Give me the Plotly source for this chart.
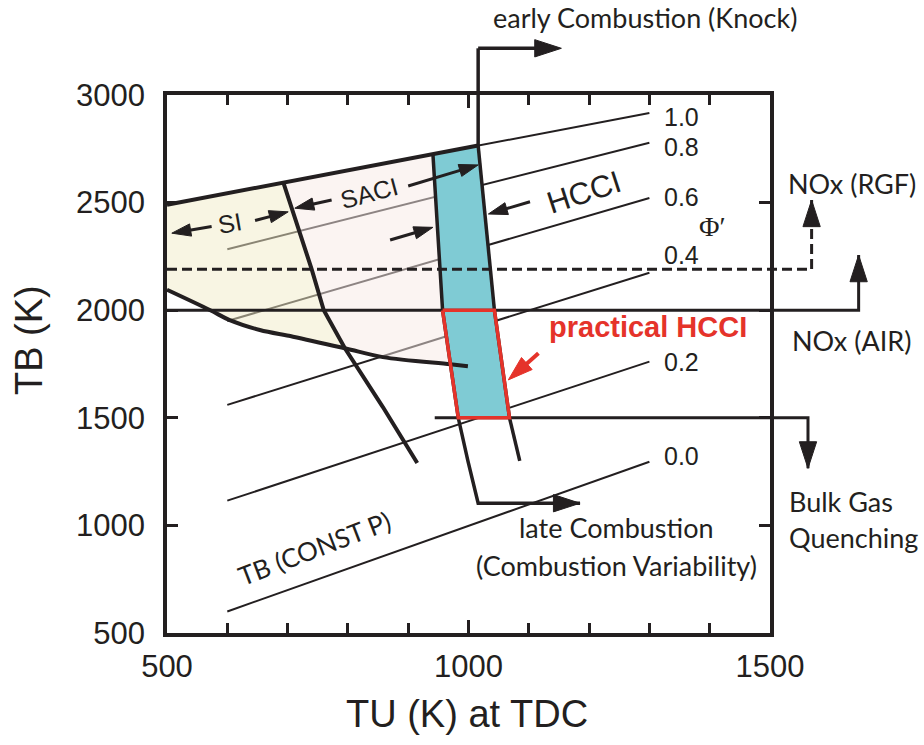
import plotly.graph_objects as go

# ---------------- data (TU in K at TDC, TB in K) ----------------
TU_RANGE = [500, 1500]
TB_RANGE = [500, 3000]

# Constant-pressure burned-gas temperature lines, one per Phi'
phi_labels = ["0.0", "0.2", "0.4", "0.6", "0.8", "1.0"]
phi_tu_start = [600, 600, 600, 600, 600, 500]
phi_tb_start = [600, 1115, 1560, 1950, 2283, 2490]
phi_tu_end = [1300, 1300, 1300, 1300, 1300, 1300]
phi_tb_end = [1296, 1761, 2174, 2521, 2778, 2916]

# Upper limit of the combustion regimes (along Phi' = 1.0)
top_tu = [500, 693, 941, 1016]
top_tb = [2490, 2593, 2725, 2765]

# SI / SACI boundary
sisaci_tu = [693, 740, 760, 795, 858, 915]
sisaci_tb = [2593, 2190, 2000, 1823, 1550, 1290]

# Lower limit of flame propagation
low_tu = [500, 571, 604, 654, 709, 795, 858, 970, 999]
low_tb = [2095, 2001, 1954, 1908, 1877, 1823, 1782, 1749, 1740]

# HCCI band, left edge continuing into the late-combustion arrow
hl_tu = [941, 957, 970, 983, 999, 1016, 1185]
hl_tb = [2725, 2000, 1749, 1500, 1300, 1103, 1103]

# HCCI band, right edge continuing into the early-combustion (knock) arrow
hr_tu = [1085, 1068, 1043, 1016, 1016, 1154]
hr_tb = [1300, 1500, 2000, 2765, 3217, 3217]

# Practical HCCI window
box_tu = [957, 1043, 1068, 983, 957]
box_tb = [2000, 2000, 1500, 1500, 2000]

# NOx limits and bulk gas quenching
air_tu = [500, 1647, 1647]
air_tb = [2000, 2000, 2256]
rgf_tu = [500, 1569, 1569]
rgf_tb = [2190, 2190, 2512]
bulk_tu = [944, 1563, 1563]
bulk_tb = [1500, 1500, 1265]

# Regime range arrows (tail -> head)
si_left = ([574, 508], [2389, 2358])
si_right = ([646, 701], [2417, 2457])
saci_left = ([773, 712], [2512, 2474])
saci_right = ([900, 1016], [2577, 2675])
hcci_in = ([870, 941], [2326, 2385])
hcci_out = ([1102, 1033], [2504, 2447])
practical_arrow = ([1116, 1066], [1800, 1676])

# ---------------- styling ----------------
INK = "#231f20"
CYAN = "#7fcbd4"
RED = "#e5332a"
SANS = "Liberation Sans, Arial, sans-serif"
HUMAN = "Lato, Open Sans, sans-serif"

W, H = 924, 745
X_DOM = [167 / W, 770 / W]
Y_DOM = [(H - 633) / H, (H - 95) / H]


def full_range(rng, dom):
    span = (rng[1] - rng[0]) / (dom[1] - dom[0])
    return [rng[0] - dom[0] * span, rng[1] + (1 - dom[1]) * span]


fig = go.Figure()

# Phi' lines live on the framed axes
for i in range(len(phi_labels)):
    fig.add_trace(go.Scatter(x=[phi_tu_start[i], phi_tu_end[i]],
                             y=[phi_tb_start[i], phi_tb_end[i]], mode="lines",
                             line=dict(color=INK, width=2), hoverinfo="skip",
                             showlegend=False))


def add_path(tu, tb, width, color=INK, dash="solid", head=0, fill=None, fillcolor=None,
             shape="linear"):
    kw = dict(x=tu, y=tb, xaxis="x2", yaxis="y2", hoverinfo="skip", showlegend=False,
              line=dict(color=color, width=width, dash=dash, shape=shape))
    if fill:
        kw.update(fill=fill, fillcolor=fillcolor, mode="lines")
    elif head:
        kw.update(mode="lines+markers",
                  marker=dict(symbol="arrow", size=[0] * (len(tu) - 1) + [head],
                              angleref="previous", color=color, opacity=1,
                              line=dict(width=1, color=color)))
    else:
        kw.update(mode="lines")
    fig.add_trace(go.Scatter(**kw))


# Regime fills (semi-transparent so Phi' lines show through as gray)
si_poly_tu = top_tu[:2] + sisaci_tu[1:4] + low_tu[4::-1]
si_poly_tb = top_tb[:2] + sisaci_tb[1:4] + low_tb[4::-1]
add_path(si_poly_tu, si_poly_tb, 0, color="rgba(0,0,0,0)", fill="toself",
         fillcolor="rgba(241,235,199,0.5)")

saci_poly_tu = top_tu[1:3] + hl_tu[1:3] + low_tu[6:4:-1] + sisaci_tu[2::-1]
saci_poly_tb = top_tb[1:3] + hl_tb[1:3] + low_tb[6:4:-1] + sisaci_tb[2::-1]
add_path(saci_poly_tu, saci_poly_tb, 0, color="rgba(0,0,0,0)", fill="toself",
         fillcolor="rgba(247,233,229,0.5)")

hcci_poly_tu = top_tu[2:4] + hr_tu[2:0:-1] + hl_tu[3::-1]
hcci_poly_tb = top_tb[2:4] + hr_tb[2:0:-1] + hl_tb[3::-1]
add_path(hcci_poly_tu, hcci_poly_tb, 0, color="rgba(0,0,0,0)", fill="toself",
         fillcolor=CYAN)

# NOx and quenching limits
add_path(rgf_tu, rgf_tb, 3, dash="10px,5px", head=28)
add_path(air_tu, air_tb, 3, head=28)
add_path(bulk_tu, bulk_tb, 3, head=28)

# Regime boundaries
add_path(top_tu, top_tb, 4)
add_path(sisaci_tu, sisaci_tb, 4)
add_path(low_tu, low_tb, 4, shape="spline")
add_path(hl_tu, hl_tb, 3.5, head=28)
add_path(hr_tu, hr_tb, 3.5, head=28)

# Practical HCCI window
add_path(box_tu, box_tb, 3.5, color=RED)

# Range arrows
for tu, tb in (si_left, si_right, saci_left, saci_right, hcci_in, hcci_out):
    add_path(tu, tb, 3, head=20)
add_path(practical_arrow[0], practical_arrow[1], 4, color=RED, head=26)

# ---------------- text ----------------
ann = []


def label(x, y, text, size, family=HUMAN, color=INK, angle=0, xanchor="center", **kw):
    ann.append(dict(x=x, y=y, xref="x2", yref="y2", text=text, showarrow=False,
                    textangle=angle, xanchor=xanchor, yanchor="middle",
                    font=dict(size=size, family=family, color=color), **kw))


phi_yshift = [6, 0, 18, 1, -4, -4]
for i, t in enumerate(phi_labels):
    label(phi_tu_end[i], phi_tb_end[i], t, 25, family=SANS, xanchor="left",
          xshift=13, yshift=phi_yshift[i])

label(1405, 2387, "Φ′", 28, family="Liberation Serif, serif")
label(604, 2405, "SI", 25, family=SANS, angle=-10)
label(835, 2545, "SACI", 25, family=SANS, angle=-15)
label(1191, 2549, "HCCI", 31, family=SANS, angle=-18)
label(1297, 1920, "<b>practical HCCI</b>", 29, family=SANS, color=RED)
label(745, 895, "TB (CONST P)", 26, angle=-21)
label(1292, 3358, "early Combustion (Knock)", 27)
label(1245, 988, "late Combustion", 27)
label(1246, 816, "(Combustion Variability)", 27)
label(1636, 2591, "NOx (RGF)", 27)
label(1635, 1861, "NOx (AIR)", 27)
label(1529, 1109, "Bulk Gas", 27, xanchor="left")
label(1529, 944, "Quenching", 27, xanchor="left")

# Axis titles
ann.append(dict(x=29 / W, y=1 - 340 / H, xref="paper", yref="paper", text="TB (K)",
                showarrow=False, textangle=-90, xanchor="center", yanchor="middle",
                font=dict(size=38, family=SANS, color=INK)))
ann.append(dict(x=467 / W, y=1 - 714 / H, xref="paper", yref="paper",
                text="TU (K) at TDC", showarrow=False, xanchor="center",
                yanchor="middle", font=dict(size=38, family=SANS, color=INK)))

axis_common = dict(showline=True, linewidth=3.5, linecolor=INK, mirror="ticks",
                   ticks="inside", tickcolor=INK, tickwidth=2.5, showgrid=False,
                   zeroline=False, automargin=False,
                   tickfont=dict(size=31, family=SANS, color=INK))

fig.update_layout(
    width=W, height=H,
    margin=dict(l=0, r=0, t=0, b=0, pad=0, autoexpand=False),
    paper_bgcolor="white", plot_bgcolor="rgba(0,0,0,0)",
    showlegend=False,
    xaxis=dict(range=TU_RANGE, domain=X_DOM, anchor="y", dtick=500, ticklen=13,
               minor=dict(dtick=100, ticks="inside", ticklen=10, tickwidth=2.5,
                          tickcolor=INK),
               ticklabelstandoff=3, **axis_common),
    yaxis=dict(range=TB_RANGE, domain=Y_DOM, anchor="x", dtick=500, ticklen=11,
               ticklabelstandoff=12, **axis_common),
    xaxis2=dict(range=full_range(TU_RANGE, X_DOM), domain=[0, 1], anchor="y2",
                visible=False, automargin=False),
    yaxis2=dict(range=full_range(TB_RANGE, Y_DOM), domain=[0, 1], anchor="x2",
                visible=False, automargin=False),
    annotations=ann,
)

fig.write_html("out.html")
